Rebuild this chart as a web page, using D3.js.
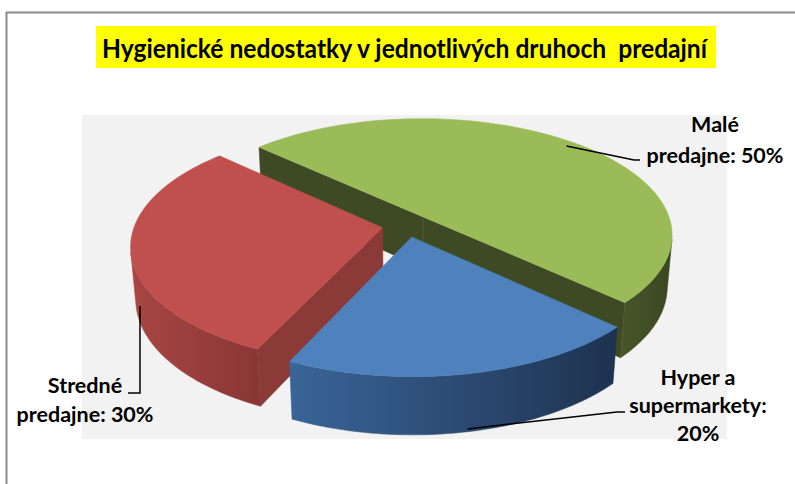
<!DOCTYPE html>
<html>
<head>
<meta charset="utf-8">
<script src="https://cdn.jsdelivr.net/npm/d3@7"></script>
<style>
  html, body { margin: 0; padding: 0; background: #ffffff; }
  svg { display: block; }
  text { font-family: "Lato", "Open Sans", sans-serif; font-weight: bold; fill: #000; white-space: pre; }
</style>
</head>
<body>
<script>
// ---- data ----
const categories = ["Malé predajne", "Hyper a supermarkety", "Stredné predajne"];
const shares = [50, 20, 30];
const labelWordGroups = [[1, 2], [2, 1, 1], [1, 2]];
const titleText = "Hygienické nedostatky v jednotlivých druhoch  predajní";

// ---- page ----
const W = 795, H = 484;
const svg = d3.select("body").append("svg").attr("width", W).attr("height", H);

// chart frame
svg.append("path")
  .attr("d", "M6.5,484 V12.5 H795")
  .attr("fill", "none").attr("stroke", "#8a8a8a").attr("stroke-width", 2);

// plot area
svg.append("rect").attr("x", 82).attr("y", 115).attr("width", 645).attr("height", 324)
  .attr("fill", "#f2f2f2");

// title on yellow band
svg.append("rect").attr("x", 96).attr("y", 26).attr("width", 620).attr("height", 42)
  .attr("fill", "#ffff00");
svg.append("text").attr("x", 102).attr("y", 58)
  .attr("font-size", 27).attr("textLength", 605).attr("lengthAdjust", "spacingAndGlyphs")
  .attr("xml:space", "preserve")
  .text(titleText);

// ---- 3D pie projection ----
const view = {
  cx: 407, cy: 225.5,        // screen position of the pie axis
  dist: 6,                   // camera distance (pie radius = 1)
  focal: 1488,
  tilt: Math.asin(0.465),    // elevation of the camera
  thick: 0.24,               // slab thickness
  explode: 0.1
};
const sinT = Math.sin(view.tilt), cosT = Math.cos(view.tilt);
const cam = [0, view.dist * sinT, view.dist * cosT];   // x, y(up), z(toward viewer)

function project(x, y, z) {
  const depth = view.dist - y * sinT - z * cosT;
  return [view.cx + view.focal * x / depth,
          view.cy + view.focal * (z * sinT - y * cosT) / depth];
}

const deg = Math.PI / 180;
const pie = d3.pie().sort(null).value(d => d)
  .startAngle(-47 * deg).endAngle(313 * deg);
const arcs = pie(shares);

const sliceStyle = [
  { top: "#9bbb59", cut: "#3e4a23", wallFrom: "#47562b", wallTo: "#3a4620" },
  { top: "#4f81bd", cut: "#2c4d74", wallFrom: "#3a6598", wallTo: "#1e3250" },
  { top: "#c0504d", cut: "#8c3a37", wallFrom: "#a84643", wallTo: "#883735" }
];

const line = d3.line();
const defs = svg.append("defs");

// geometry of every slice (angles measured clockwise from screen-right)
const slices = arcs.map((a, i) => {
  const a0 = a.startAngle - Math.PI / 2, a1 = a.endAngle - Math.PI / 2;
  const mid = (a0 + a1) / 2;
  const ox = view.explode * Math.cos(mid), oz = view.explode * Math.sin(mid);
  return { i, a0, a1, mid, ox, oz };
});

function rimPoint(s, b, y, r = 1) {
  return [s.ox + r * Math.cos(b), y, s.oz + r * Math.sin(b)];
}
function facing(n, p) {
  return n[0] * (cam[0] - p[0]) + n[1] * (cam[1] - p[1]) + n[2] * (cam[2] - p[2]) > 0;
}

const gPie = svg.append("g");
const order = slices.slice().sort((a, b) => a.oz - b.oz);   // far to near

order.forEach(s => {
  const st = sliceStyle[s.i];
  const g = gPie.append("g");
  const h = -view.thick;
  const apexT = [s.ox, 0, s.oz], apexB = [s.ox, h, s.oz];

  // cut faces
  const cuts = [
    { b: s.a0, n: [Math.sin(s.a0), 0, -Math.cos(s.a0)] },
    { b: s.a1, n: [-Math.sin(s.a1), 0, Math.cos(s.a1)] }
  ];
  cuts.forEach(c => {
    const rt = rimPoint(s, c.b, 0), rb = rimPoint(s, c.b, h);
    const centre = [(apexT[0] + rt[0]) / 2, h / 2, (apexT[2] + rt[2]) / 2];
    if (facing(c.n, centre)) {
      g.append("path")
        .attr("d", line([apexT, rt, rb, apexB].map(p => project(...p))) + "Z")
        .attr("fill", st.cut).attr("stroke", st.cut).attr("stroke-width", 0.5);
    }
  });

  // outer wall (visible part only)
  const steps = Math.max(8, Math.round((s.a1 - s.a0) / deg));
  const vis = [];
  for (let k = 0; k < steps; k++) {
    const b0 = s.a0 + (s.a1 - s.a0) * k / steps;
    const b1 = s.a0 + (s.a1 - s.a0) * (k + 1) / steps;
    const bm = (b0 + b1) / 2;
    const n = [Math.cos(bm), 0, Math.sin(bm)];
    if (facing(n, rimPoint(s, bm, h / 2))) vis.push([b0, b1]);
  }
  if (vis.length) {
    const bs = [vis[0][0], ...vis.map(v => v[1])];
    const topPts = bs.map(b => project(...rimPoint(s, b, 0)));
    const botPts = bs.map(b => project(...rimPoint(s, b, h))).reverse();
    const pts = topPts.concat(botPts);
    const xs = pts.map(p => p[0]);
    const gid = "wall" + s.i;
    const grad = defs.append("linearGradient").attr("id", gid)
      .attr("gradientUnits", "userSpaceOnUse")
      .attr("x1", d3.min(xs)).attr("x2", d3.max(xs)).attr("y1", 0).attr("y2", 0);
    grad.append("stop").attr("offset", 0).attr("stop-color", st.wallFrom);
    grad.append("stop").attr("offset", 1).attr("stop-color", st.wallTo);
    g.append("path").attr("d", line(pts) + "Z")
      .attr("fill", `url(#${gid})`).attr("stroke", `url(#${gid})`).attr("stroke-width", 0.5);
  }

  // top face
  const topPts = [project(...apexT)];
  for (let k = 0; k <= steps; k++) {
    const b = s.a0 + (s.a1 - s.a0) * k / steps;
    topPts.push(project(...rimPoint(s, b, 0)));
  }
  g.append("path").attr("d", line(topPts) + "Z")
    .attr("fill", st.top).attr("stroke", st.top).attr("stroke-width", 0.5);
});

// ---- data labels with leader lines ----
// anchor: fraction along the slice, radius fraction, height fraction (0 top, 1 bottom)
// elbow x of null keeps the leader vertical below the anchor
const labelLayout = [
  { anchor: [0.5, 0.95, 0], elbow: [634, 160], end: [640, 160], x: 715, y: 132, dy: 31 },
  { anchor: [0.5, 1.0, 0.95], elbow: [617, 412], end: [625, 412], x: 698, y: 385, dy: 28 },
  { anchor: [0.4, 1.0, 0.6], elbow: [null, 393], end: [128, 393], x: 85, y: 393, dy: 29 }
];

slices.forEach(s => {
  const L = labelLayout[s.i];
  const b = s.a0 + (s.a1 - s.a0) * L.anchor[0];
  const p = project(...rimPoint(s, b, -view.thick * L.anchor[2], L.anchor[1]));
  const elbow = [L.elbow[0] === null ? p[0] : L.elbow[0], L.elbow[1]];
  svg.append("path")
    .attr("d", line([p, elbow, L.end]))
    .attr("fill", "none").attr("stroke", "#000").attr("stroke-width", 1.5);

  const words = `${categories[s.i]}: ${shares[s.i]}%`.split(" ");
  let w = 0;
  const rows = labelWordGroups[s.i].map(n => { const r = words.slice(w, w + n).join(" "); w += n; return r; });
  const t = svg.append("text").attr("text-anchor", "middle").attr("font-size", 21.5);
  rows.forEach((r, k) => t.append("tspan").attr("x", L.x).attr("y", L.y + k * L.dy).text(r));
});
</script>
</body>
</html>
